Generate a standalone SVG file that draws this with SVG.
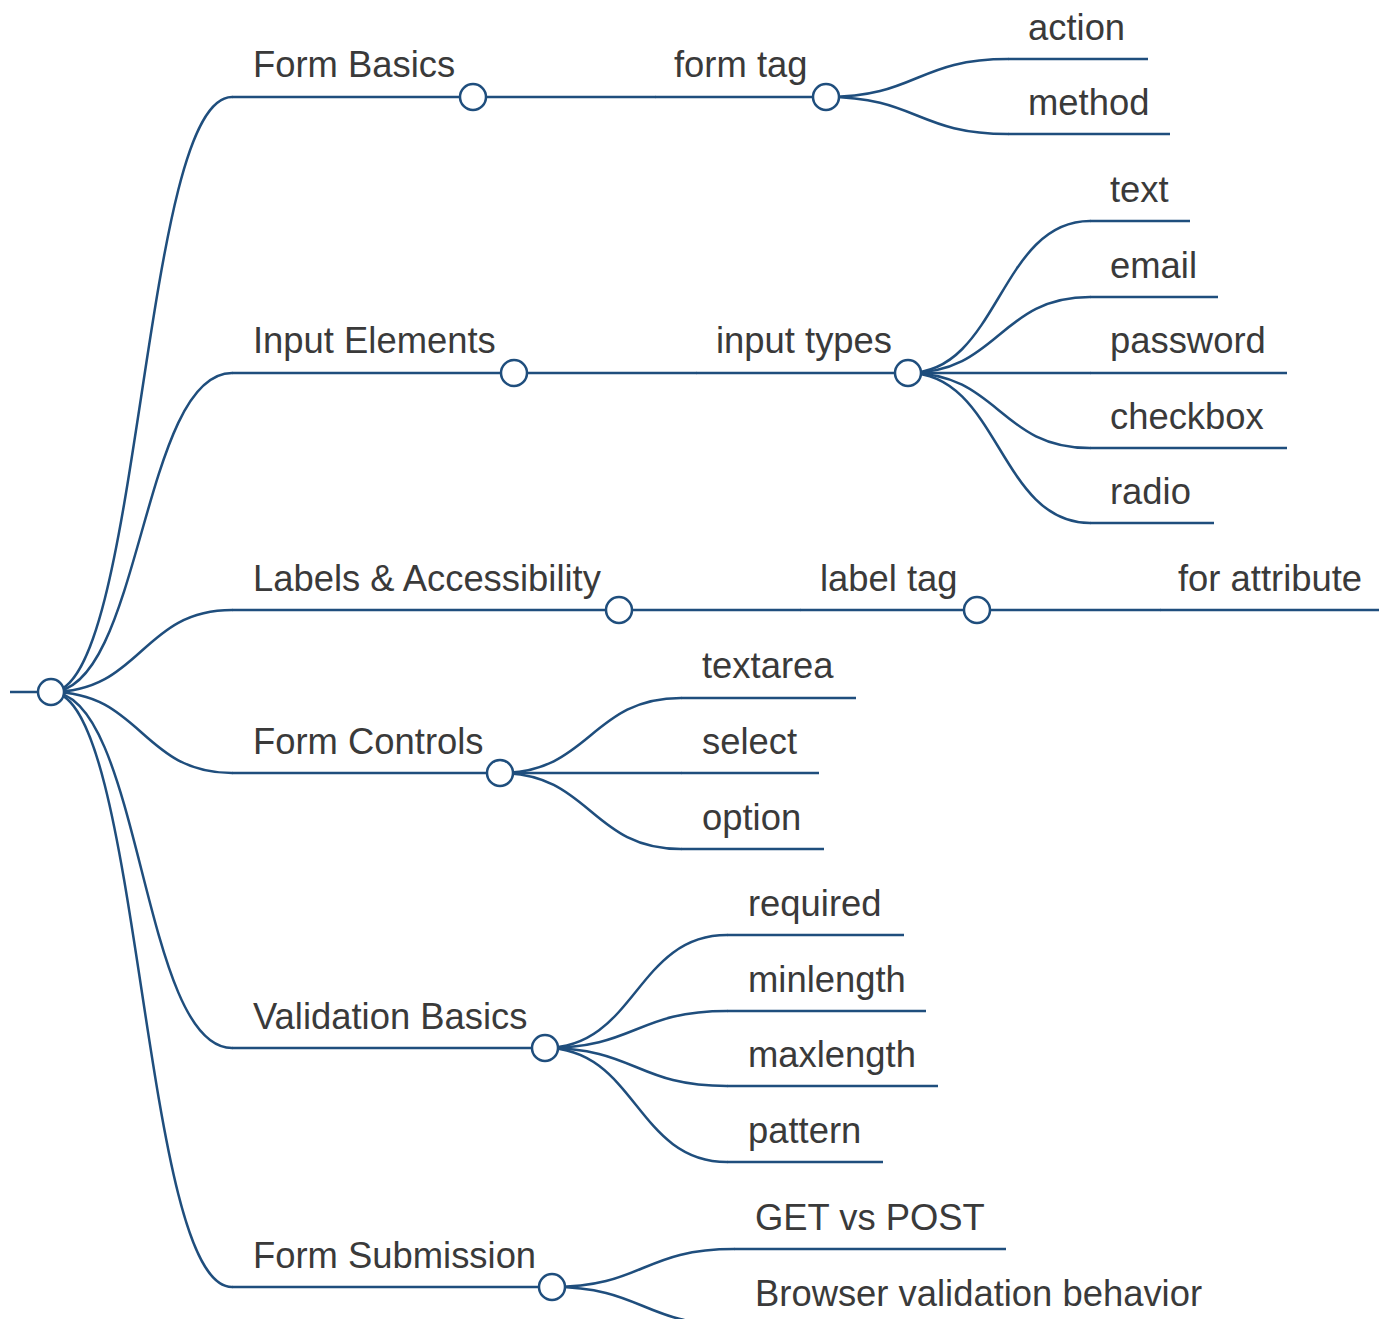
<svg xmlns="http://www.w3.org/2000/svg" width="1379" height="1319" viewBox="0 0 1379 1319">
<style>
.l{fill:none;stroke:#1f4e7d;stroke-width:2.5;stroke-linecap:round}
.u{fill:none;stroke:#1f4e7d;stroke-width:2.5}
.c{fill:#fff;stroke:#1f4e7d;stroke-width:2.5}
text{font-family:"Liberation Sans",Arial,sans-serif;font-size:36.4px;fill:#3a3a3a}
</style>
<rect width="1379" height="1319" fill="#fff"/>
<g id="connectors">
<path class="l" d="M51,692 C141.5,692 141.5,97 232,97"/>
<path class="l" d="M51,692 C141.5,692 141.5,373 232,373"/>
<path class="l" d="M51,692 C141.5,692 141.5,610 232,610"/>
<path class="l" d="M51,692 C141.5,692 141.5,773 232,773"/>
<path class="l" d="M51,692 C141.5,692 141.5,1048 232,1048"/>
<path class="l" d="M51,692 C141.5,692 141.5,1287 232,1287"/>
<path class="l" d="M473,97 L655,97"/>
<path class="l" d="M826,97 C917,97 917,59 1008,59"/>
<path class="l" d="M826,97 C917,97 917,134 1008,134"/>
<path class="l" d="M514,373 L696,373"/>
<path class="l" d="M908,373 C999,373 999,221 1090,221"/>
<path class="l" d="M908,373 C999,373 999,297 1090,297"/>
<path class="l" d="M908,373 L1090,373"/>
<path class="l" d="M908,373 C999,373 999,448 1090,448"/>
<path class="l" d="M908,373 C999,373 999,523 1090,523"/>
<path class="l" d="M619,610 L800,610"/>
<path class="l" d="M977,610 L1160,610"/>
<path class="l" d="M500,773 C590.5,773 590.5,698 681,698"/>
<path class="l" d="M500,773 L681,773"/>
<path class="l" d="M500,773 C590.5,773 590.5,849 681,849"/>
<path class="l" d="M545,1048 C636,1048 636,935 727,935"/>
<path class="l" d="M545,1048 C636,1048 636,1011 727,1011"/>
<path class="l" d="M545,1048 C636,1048 636,1086 727,1086"/>
<path class="l" d="M545,1048 C636,1048 636,1162 727,1162"/>
<path class="l" d="M552,1287 C643,1287 643,1249 734,1249"/>
<path class="l" d="M552,1287 C643,1287 643,1325 734,1325"/>
</g>
<g id="root"><path class="u" d="M10,692 H51"/><circle class="c" cx="51" cy="692" r="13"/></g>
<g id="n-form-basics"><path class="u" d="M232,97 H473"/><text x="253" y="77">Form Basics</text><circle class="c" cx="473" cy="97" r="13"/></g>
<g id="n-form-tag"><path class="u" d="M655,97 H826"/><text x="674" y="77">form tag</text><circle class="c" cx="826" cy="97" r="13"/></g>
<g id="n-action"><path class="u" d="M1008,59 H1148"/><text x="1028" y="40">action</text></g>
<g id="n-method"><path class="u" d="M1008,134 H1170"/><text x="1028" y="115">method</text></g>
<g id="n-input-elements"><path class="u" d="M232,373 H514"/><text x="253" y="353">Input Elements</text><circle class="c" cx="514" cy="373" r="13"/></g>
<g id="n-input-types"><path class="u" d="M696,373 H908"/><text x="716" y="353">input types</text><circle class="c" cx="908" cy="373" r="13"/></g>
<g id="n-text"><path class="u" d="M1090,221 H1190"/><text x="1110" y="202">text</text></g>
<g id="n-email"><path class="u" d="M1090,297 H1218"/><text x="1110" y="278">email</text></g>
<g id="n-password"><path class="u" d="M1090,373 H1287"/><text x="1110" y="353">password</text></g>
<g id="n-checkbox"><path class="u" d="M1090,448 H1287"/><text x="1110" y="429">checkbox</text></g>
<g id="n-radio"><path class="u" d="M1090,523 H1214"/><text x="1110" y="504">radio</text></g>
<g id="n-labels"><path class="u" d="M232,610 H619"/><text x="253" y="591">Labels &amp; Accessibility</text><circle class="c" cx="619" cy="610" r="13"/></g>
<g id="n-label-tag"><path class="u" d="M800,610 H977"/><text x="820" y="591">label tag</text><circle class="c" cx="977" cy="610" r="13"/></g>
<g id="n-for-attribute"><path class="u" d="M1160,610 H1379"/><text x="1178" y="591">for attribute</text></g>
<g id="n-form-controls"><path class="u" d="M232,773 H500"/><text x="253" y="754">Form Controls</text><circle class="c" cx="500" cy="773" r="13"/></g>
<g id="n-textarea"><path class="u" d="M681,698 H856"/><text x="702" y="678">textarea</text></g>
<g id="n-select"><path class="u" d="M681,773 H819"/><text x="702" y="754">select</text></g>
<g id="n-option"><path class="u" d="M681,849 H824"/><text x="702" y="830">option</text></g>
<g id="n-validation"><path class="u" d="M232,1048 H545"/><text x="253" y="1029">Validation Basics</text><circle class="c" cx="545" cy="1048" r="13"/></g>
<g id="n-required"><path class="u" d="M727,935 H904"/><text x="748" y="916">required</text></g>
<g id="n-minlength"><path class="u" d="M727,1011 H926"/><text x="748" y="992">minlength</text></g>
<g id="n-maxlength"><path class="u" d="M727,1086 H938"/><text x="748" y="1067">maxlength</text></g>
<g id="n-pattern"><path class="u" d="M727,1162 H883"/><text x="748" y="1143">pattern</text></g>
<g id="n-form-submission"><path class="u" d="M232,1287 H552"/><text x="253" y="1268">Form Submission</text><circle class="c" cx="552" cy="1287" r="13"/></g>
<g id="n-get-post"><path class="u" d="M734,1249 H1006"/><text x="755" y="1230">GET vs POST</text></g>
<g id="n-browser"><path class="u" d="M734,1325 H1220"/><text x="755" y="1306">Browser validation behavior</text></g>
</svg>
